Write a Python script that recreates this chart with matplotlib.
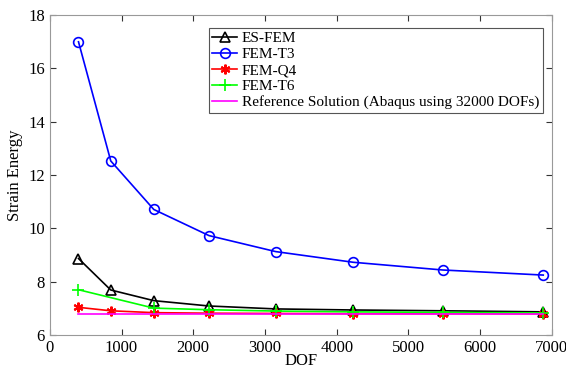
import matplotlib
matplotlib.use('Agg')
import matplotlib.pyplot as plt

plt.rcParams['font.family'] = ['Liberation Serif', 'DejaVu Serif']

# Donnees
dof = [400, 850, 1450, 2220, 3150, 4230, 5480, 6880]
dof_t6 = [400, 1450, 2220, 3150, 4230, 5480, 6880]
es_fem = [8.87, 7.69, 7.29, 7.09, 6.98, 6.94, 6.91, 6.87]
fem_t3 = [17.0, 12.53, 10.71, 9.73, 9.13, 8.73, 8.44, 8.25]
fem_q4 = [7.04, 6.91, 6.84, 6.82, 6.81, 6.80, 6.80, 6.80]
fem_t6 = [7.70, 7.01, 6.95, 6.90, 6.87, 6.85, 6.83]
ref_x = [400, 6880]
ref_y = [6.78, 6.78]

fig = plt.figure(figsize=(5.66, 3.69), dpi=100)
ax = fig.add_axes([0.088, 0.092, 0.887, 0.867])

ax.plot(dof, es_fem, color='black', marker='^', mfc='none', ms=7, mew=1.2, lw=1.2, label='ES-FEM')
ax.plot(dof, fem_t3, color='#0000ff', marker='o', mfc='none', ms=7, mew=1.2, lw=1.2, label='FEM-T3')
ax.plot(dof, fem_q4, color='#ff0000', marker=(6, 2, 0), ms=7, mew=1.5, lw=1.2, label='FEM-Q4')
ax.plot(dof_t6, fem_t6, color='#00ff00', marker='+', ms=8, mew=1.2, lw=1.2, label='FEM-T6')
ax.plot(ref_x, ref_y, color='#ff00ff', lw=1.2, label='Reference Solution (Abaqus using 32000 DOFs)')

ax.set_xlim(0, 7000)
ax.set_ylim(6, 18)
ax.set_xticks(range(0, 7001, 1000))
ax.set_yticks(range(6, 19, 2))
ax.tick_params(direction='in', top=True, right=True, labelsize=12, colors='#333333', length=4)
for lab in ax.get_xticklabels() + ax.get_yticklabels():
    lab.set_color('black')
for s in ax.spines.values():
    s.set_color('#999999')

ax.set_xlabel('DOF', fontsize=12, labelpad=-2)
ax.set_ylabel('Strain Energy', fontsize=12, labelpad=4)

leg = ax.legend(loc='upper right', bbox_to_anchor=(0.997, 0.985), fontsize=11, handlelength=1.6,
                handletextpad=0.3, borderpad=0.25, labelspacing=0.15, fancybox=False, framealpha=1)
leg.get_frame().set_edgecolor('#555555')
leg.get_frame().set_linewidth(0.8)

fig.savefig('out.png', dpi=100)
